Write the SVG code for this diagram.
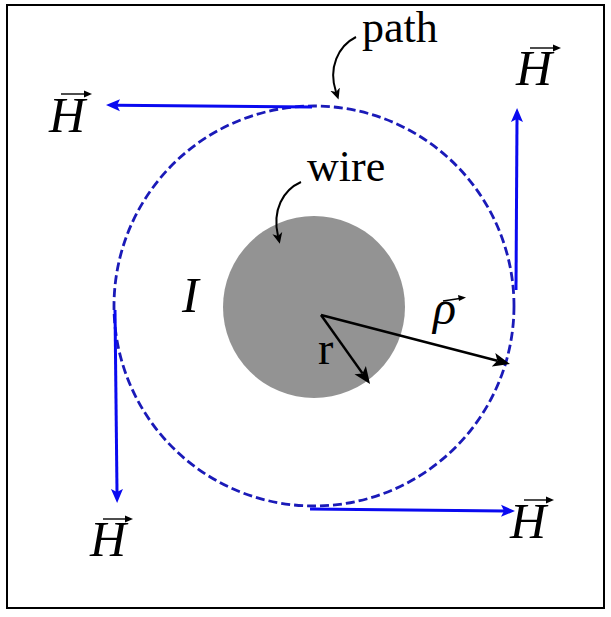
<svg xmlns="http://www.w3.org/2000/svg" width="611" height="617" viewBox="0 0 611 617">
<style>
.txt{font-family:"Liberation Serif","Times New Roman",serif;fill:#000}
.it{font-style:italic}
.h{font-size:50px}
.lbl{font-size:44px}
.blue{stroke:#0a0af0;stroke-width:3;fill:none}
.blk{stroke:#000;stroke-width:2.5;fill:none}
.thin{stroke:#000;stroke-width:2;fill:none}
.vec{stroke:#000;stroke-width:1.4;fill:none}
</style>
<defs>
<marker id="ab" markerUnits="userSpaceOnUse" markerWidth="16" markerHeight="14" viewBox="0 -7 16 14" refX="3" refY="0" orient="auto">
<path d="M0,-6 L14,0 L0,6 L3,0 z" fill="#0a0af0"/>
</marker>
<marker id="ak" markerUnits="userSpaceOnUse" markerWidth="18" markerHeight="16" viewBox="0 -8 18 16" refX="4" refY="0" orient="auto">
<path d="M0,-7 L17,0 L0,7 L4,0 z" fill="#000"/>
</marker>
<marker id="as" markerUnits="userSpaceOnUse" markerWidth="12" markerHeight="12" viewBox="0 -6 12 12" refX="3" refY="0" orient="auto">
<path d="M0,-5 L11,0 L0,5 L3,0 z" fill="#000"/>
</marker>
</defs>
<rect x="0" y="0" width="611" height="617" fill="#fff"/>
<rect x="7" y="5" width="597" height="603" fill="none" stroke="#000" stroke-width="2"/>

<g id="wire">
<circle cx="314" cy="307" r="91" fill="#939393"/>
</g>
<g id="path-circle">
<circle cx="314" cy="306" r="200" fill="none" stroke="#1a1ab8" stroke-width="2.8" stroke-dasharray="9 4"/>
</g>

<g id="connectors">
<line class="blue" x1="312" y1="107" x2="117" y2="105.2" marker-end="url(#ab)"/>
<line class="blue" x1="516" y1="290" x2="517" y2="119" marker-end="url(#ab)"/>
<line class="blue" x1="115" y1="310" x2="117" y2="492" marker-end="url(#ab)"/>
<line class="blue" x1="310" y1="509" x2="504" y2="510.9" marker-end="url(#ab)"/>
<line class="blk" x1="321" y1="315" x2="362.5" y2="373.4" marker-end="url(#ak)"/>
<line class="blk" x1="321" y1="315" x2="497.4" y2="360.7" marker-end="url(#ak)"/>
<path class="thin" d="M356,37 C338,46 328,68 336,92" marker-end="url(#as)"/>
<path class="thin" d="M301,182 C283,190 272,210 278,236" marker-end="url(#as)"/>
</g>

<g id="label-path"><text class="txt lbl" x="362" y="42">path</text></g>
<g id="label-wire"><text class="txt lbl" x="307" y="181">wire</text></g>
<g id="label-I"><text class="txt it" font-size="50" x="182" y="312">I</text></g>
<g id="label-r"><text class="txt" font-size="46" x="318" y="364">r</text></g>
<g id="label-rho">
<text class="txt it" font-size="48" x="433" y="324">ρ</text>
<path class="vec" d="M443,301 L463,298"/>
<path d="M458,295 L466,297.6 L459,301 z" fill="#000"/>
</g>

<g id="H-top">
<text class="txt it h" x="49" y="132">H</text>
<path class="vec" d="M61,94 H89"/><path d="M84,90.5 L92,94 L84,97.5 z" fill="#000"/>
</g>
<g id="H-right">
<text class="txt it h" x="516" y="85">H</text>
<path class="vec" d="M530,48 H558"/><path d="M553,44.5 L561,48 L553,51.5 z" fill="#000"/>
</g>
<g id="H-left">
<text class="txt it h" x="90" y="556">H</text>
<path class="vec" d="M103,519 H130"/><path d="M125,515.5 L133,519 L125,522.5 z" fill="#000"/>
</g>
<g id="H-bottom">
<text class="txt it h" x="510" y="538">H</text>
<path class="vec" d="M524,500 H551"/><path d="M546,496.5 L554,500 L546,503.5 z" fill="#000"/>
</g>
</svg>
